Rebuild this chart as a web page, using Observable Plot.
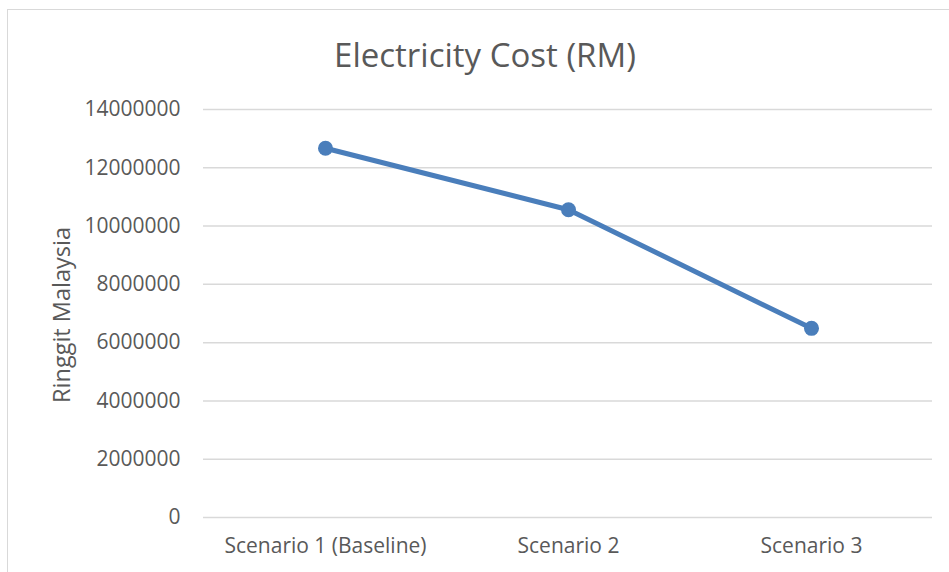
<!DOCTYPE html>
<html>
<head>
<meta charset="utf-8">
<script src="https://cdn.jsdelivr.net/npm/d3@7"></script>
<script src="https://cdn.jsdelivr.net/npm/@observablehq/plot@0.6"></script>
<style>
  html, body { margin: 0; padding: 0; background: #fff; overflow: hidden; }
  #wrap { position: relative; width: 949px; height: 572px; overflow: hidden; font-family: "Open Sans", sans-serif; }
  #frame { position: absolute; left: 7px; top: 9px; width: 1000px; height: 700px; border: 1.5px solid #d9d9d9; box-sizing: border-box; }
  #title { position: absolute; left: 285px; width: 400px; top: 38px; text-align: center; font-size: 33px; color: #595959; line-height: 1; white-space: nowrap; }
  #ylabel { position: absolute; left: 62px; top: 315px; transform: translate(-50%, -50%) rotate(-90deg); font-size: 23.5px; color: #595959; line-height: 1; white-space: nowrap; }
  #chart { position: absolute; left: 0; top: 0; }
</style>
</head>
<body>
<div id="wrap">
  <div id="frame"></div>
  <div id="chart"></div>
  <div id="title">Electricity Cost (RM)</div>
  <div id="ylabel"></div>
</div>
<script>
// Electricity cost per scenario, in Ringgit Malaysia
const scenarios = ["Scenario 1 (Baseline)", "Scenario 2", "Scenario 3"];
const costs = [12670000, 10560000, 6490000];
const yTicks = [0, 2000000, 4000000, 6000000, 8000000, 10000000, 12000000, 14000000];
const yLabel = "Ringgit Malaysia";

document.getElementById("ylabel").textContent = yLabel;

const rows = scenarios.map((s, i) => ({scenario: s, cost: costs[i]}));
const textColor = "#595959";
const lineColor = "#4a7ebb";

const chart = Plot.plot({
  width: 949,
  height: 572,
  marginLeft: 203,
  marginRight: 17,
  marginTop: 109,
  marginBottom: 55,
  style: {fontFamily: "'Open Sans', sans-serif", color: textColor, background: "transparent"},
  x: {type: "point", domain: scenarios, padding: 0.5},
  y: {domain: [0, 14000000]},
  marks: [
    Plot.gridY(yTicks, {stroke: "#d9d9d9", strokeOpacity: 1, strokeWidth: 1.5}),
    Plot.axisY(yTicks, {tickSize: 0, tickPadding: 23, fontSize: 21, fill: textColor, tickFormat: d3.format("d"), label: null}),
    Plot.axisX({tickSize: 0, tickPadding: 21, fontSize: 21, fill: textColor, label: null}),
    Plot.line(rows, {x: "scenario", y: "cost", stroke: lineColor, strokeWidth: 5, strokeLinecap: "round", strokeLinejoin: "round"}),
    Plot.dot(rows, {x: "scenario", y: "cost", r: 7.5, fill: lineColor, stroke: "none"})
  ]
});
document.getElementById("chart").appendChild(chart);
</script>
</body>
</html>
